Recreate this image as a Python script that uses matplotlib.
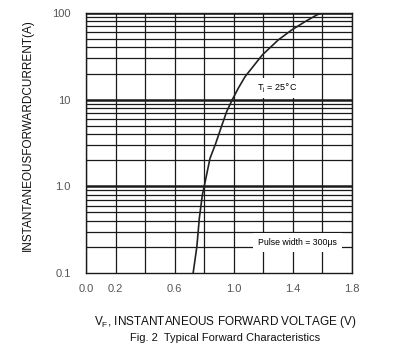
import numpy as np
import matplotlib
matplotlib.use('Agg')
import matplotlib.pyplot as plt
from matplotlib.ticker import LogLocator, FixedLocator, NullFormatter

# forward voltage (V) vs instantaneous forward current (A)
vf = [0.725, 0.75, 0.767, 0.787, 0.80, 0.839, 0.877, 0.913, 0.952, 0.99,
      1.03, 1.076, 1.193, 1.301, 1.392, 1.482, 1.561, 1.595]
i_f = [0.1, 0.2, 0.43, 0.79, 1.0, 2.1, 3.1, 4.7, 7.3, 10.0,
       13.5, 18.4, 32.8, 48.9, 63.7, 79.4, 94.8, 100.0]

x_ticks = [0.0, 0.2, 0.4, 0.6, 0.8, 1.0, 1.2, 1.4, 1.6, 1.8]
x_tick_labels = ['0.0', '0.2', '', '0.6', '', '1.0', '', '1.4', '', '1.8']
y_ticks = [0.1, 1.0, 10, 100]
y_tick_labels = ['0.1', '1.0', '10', '100']

plt.rcParams['font.family'] = ['Liberation Sans', 'DejaVu Sans']

fig = plt.figure(figsize=(3.99, 3.58), dpi=100)
ax = fig.add_axes([86 / 399, 1 - 273 / 358, 266 / 399, 260 / 358])

ax.set_yscale('log')
ax.set_xlim(0, 1.8)
ax.set_ylim(0.1, 100)

# grid: every 0.2 V, every 1..9 per decade
for x in x_ticks:
    ax.axvline(x, color='#1a1a1a', lw=0.9, zorder=1)
for dec in [0.1, 1, 10]:
    for k in range(2, 10):
        ax.axhline(dec * k, color='#1a1a1a', lw=0.9, zorder=1)
for y in [1, 10, 100]:
    ax.axhline(y, color='#1a1a1a', lw=1.8, zorder=1)

ax.plot(vf, i_f, color='#222222', lw=1.2, zorder=3)

ax.set_xticks(x_ticks)
ax.set_xticklabels(x_tick_labels)
ax.yaxis.set_major_locator(FixedLocator(y_ticks))
ax.set_yticklabels(y_tick_labels)
ax.yaxis.set_minor_locator(LogLocator(subs=range(2, 10)))
ax.yaxis.set_minor_formatter(NullFormatter())
ax.tick_params(which='both', length=0, colors='#555555', labelsize=8)
ax.tick_params(axis='y', pad=11)
ax.tick_params(axis='x', pad=8)
for s in ax.spines.values():
    s.set_color('#1a1a1a')
    s.set_linewidth(1.0)

ax.text(1.29, 13.5, r'T$_\mathregular{j}$ = 25$\degree$C', fontsize=6.5, ha='center', va='center',
        zorder=4, bbox=dict(facecolor='white', edgecolor='none', pad=2.5))
ax.text(1.43, 0.225, 'Pulse width = 300\u03bcs', fontsize=6.3, ha='center', va='center',
        zorder=4, bbox=dict(facecolor='white', edgecolor='none', pad=3.5))

fig.text(28 / 399, 1 - 135 / 358, 'INSTANTANEOUSFORWARDCURRENT(A)', rotation=90,
         ha='center', va='center', fontsize=8.5, color='#111111')
fig.text(225 / 399, 1 - 322 / 358, r'V$_\mathregular{F}$, INSTANTANEOUS FORWARD VOLTAGE (V)',
         ha='center', va='center', fontsize=8.5, color='#111111')
fig.text(225 / 399, 1 - 338 / 358, 'Fig. 2  Typical Forward Characteristics',
         ha='center', va='center', fontsize=8, color='#111111')

fig.savefig('out.png', dpi=100)
